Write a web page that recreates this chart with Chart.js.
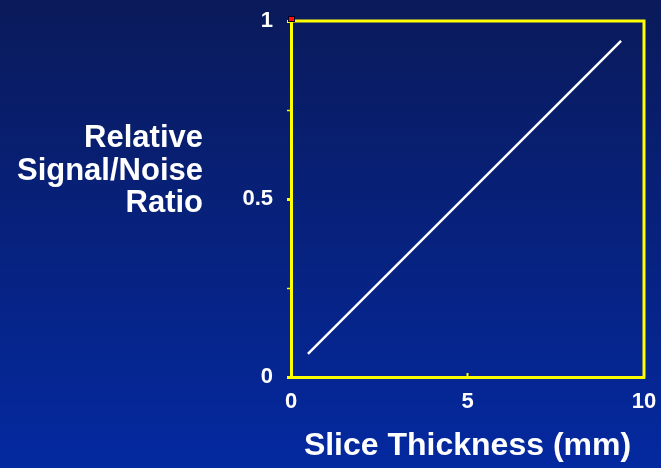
<!DOCTYPE html>
<html>
<head>
<meta charset="utf-8">
<script src="https://cdn.jsdelivr.net/npm/chart.js@4/dist/chart.umd.min.js"></script>
<style>
  html, body { margin: 0; padding: 0; background: #061c70; }
  canvas { display: block; }
</style>
</head>
<body>
<canvas id="c" width="661" height="468"></canvas>
<script>
// Slice thickness (mm) against relative signal-to-noise ratio
const thickness = [0.48, 9.35];
const relativeSnr = [0.065, 0.944];
const xTickValues = [0, 5, 10];
const yTickLabels = ['0', '0.5', '1'];
const yTitleLines = ['Relative', 'Signal/Noise', 'Ratio'];
const xTitle = 'Slice Thickness (mm)';

const YELLOW = '#ffff00';
const FONT = '"Liberation Sans", Arial, sans-serif';

const points = thickness.map((t, i) => ({ x: t, y: relativeSnr[i] }));

const backdrop = {
  id: 'backdrop',
  beforeDraw(chart) {
    const { ctx, width, height } = chart;
    const g = ctx.createLinearGradient(0, 0, 0, height);
    g.addColorStop(0, '#0a1a5a');
    g.addColorStop(1, '#0429a0');
    ctx.save();
    ctx.fillStyle = g;
    ctx.fillRect(0, 0, width, height);
    ctx.restore();
  }
};

const frame = {
  id: 'frame',
  afterDraw(chart) {
    const { ctx, chartArea: a, scales: { x, y } } = chart;
    ctx.save();
    ctx.strokeStyle = YELLOW;
    ctx.lineWidth = 3;
    ctx.beginPath();
    ctx.moveTo(a.left - 1.5, a.top);
    ctx.lineTo(a.right, a.top);
    ctx.lineTo(a.right, a.bottom + 1.5);
    ctx.stroke();
    // short inward ticks on the x axis
    ctx.lineWidth = 2;
    xTickValues.forEach(v => {
      const px = x.getPixelForValue(v);
      ctx.beginPath();
      ctx.moveTo(px, a.bottom);
      ctx.lineTo(px, a.bottom - 4);
      ctx.stroke();
    });
    // red marker at the top of the y axis
    const mx = x.getPixelForValue(0), my = y.getPixelForValue(1);
    ctx.fillStyle = '#000022';
    ctx.fillRect(mx - 3, my - 5, 7, 6);
    ctx.fillStyle = '#ff1010';
    ctx.fillRect(mx - 2, my - 4, 5, 4);

    // multi-line y-axis title, right aligned
    ctx.fillStyle = '#ffffff';
    ctx.font = 'bold 31px ' + FONT;
    ctx.textAlign = 'right';
    ctx.textBaseline = 'alphabetic';
    const tx = a.left - 88;
    yTitleLines.forEach((line, i) => {
      ctx.fillText(line, tx, a.top + 126 + i * 32.5);
    });
    ctx.restore();
  }
};

new Chart(document.getElementById('c'), {
  type: 'scatter',
  data: {
    datasets: [{
      data: points,
      showLine: true,
      borderColor: '#ffffff',
      borderWidth: 2.5,
      pointRadius: 0,
      pointHoverRadius: 0,
      fill: false
    }]
  },
  options: {
    responsive: false,
    animation: false,
    events: [],
    layout: { padding: { top: 21, right: 17, left: 0, bottom: 0 } },
    plugins: { legend: { display: false }, tooltip: { enabled: false } },
    scales: {
      x: {
        type: 'linear',
        min: 0,
        max: 10,
        afterFit(s) {
          s.height = 91;
          s.paddingLeft = 0;
          s.paddingRight = 0;
        },
        afterBuildTicks(s) { s.ticks = xTickValues.map(v => ({ value: v })); },
        ticks: {
          color: '#ffffff',
          font: { family: FONT, size: 22, weight: 'bold' },
          padding: 12,
          maxRotation: 0,
          autoSkip: false
        },
        grid: { drawOnChartArea: false, drawTicks: false },
        border: { color: YELLOW, width: 3 },
        title: {
          display: true,
          text: xTitle,
          color: '#ffffff',
          font: { family: FONT, size: 32, weight: 'bold' },
          padding: { top: 0, bottom: 3 }
        }
      },
      y: {
        type: 'linear',
        min: 0,
        max: 1,
        afterFit(s) {
          s.width = 291;
          s.paddingTop = 0;
          s.paddingBottom = 0;
        },
        ticks: {
          stepSize: 0.25,
          color: '#ffffff',
          font: { family: FONT, size: 22, weight: 'bold' },
          padding: 14,
          autoSkip: false,
          callback(v) {
            const idx = [0, 0.5, 1].indexOf(v);
            return idx >= 0 ? yTickLabels[idx] : '';
          }
        },
        grid: {
          drawOnChartArea: false,
          drawTicks: true,
          tickLength: 4,
          tickColor: YELLOW,
          tickWidth: ctx => (ctx.tick && ctx.tick.value % 0.5 === 0 ? 3 : 1.5)
        },
        border: { color: YELLOW, width: 3 }
      }
    }
  },
  plugins: [backdrop, frame]
});
</script>
</body>
</html>
